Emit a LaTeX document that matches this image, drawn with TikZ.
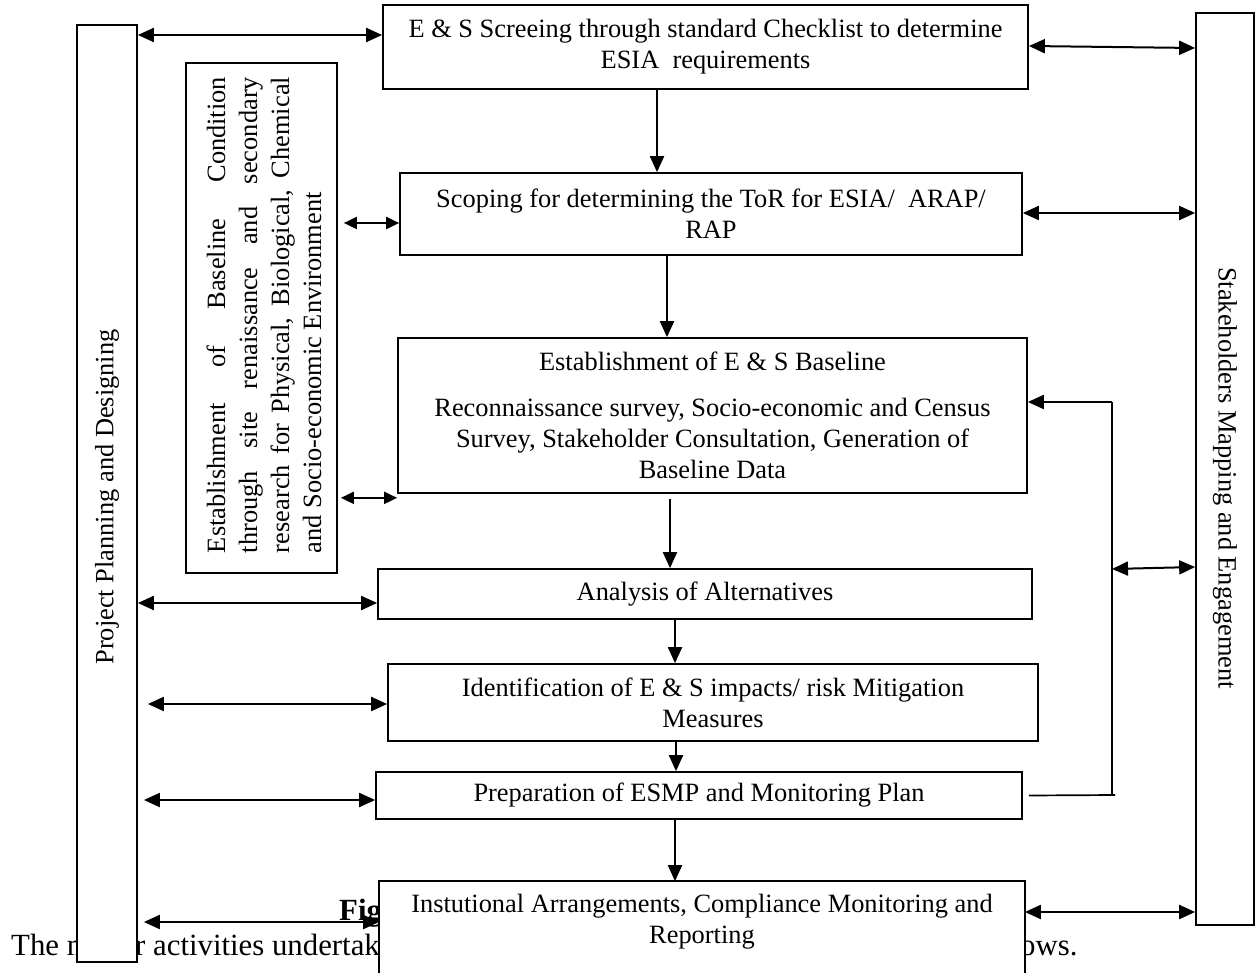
\documentclass[tikz,border=0pt]{standalone}
\usepackage{fontspec}
\setmainfont{Liberation Serif}
\usetikzlibrary{arrows.meta,calc}
\newcommand{\dgfont}{\fontsize{26.4}{31}\selectfont}
\newcommand{\pgtxt}{\fontsize{30.8}{36}\selectfont}

\begin{document}
\begin{tikzpicture}[x=1pt,y=-1pt,
  box/.style={draw, line width=1.7pt, fill=white, inner sep=0pt, align=center, font=\dgfont},
  side/.style={draw, line width=1.7pt, fill=white, inner sep=0pt},
  arr/.style={line width=2pt, -{Triangle[length=16pt,width=14pt]}},
  dbl/.style={line width=2pt, {Triangle[length=16pt,width=14pt]}-{Triangle[length=16pt,width=14pt]}},
  sdbl/.style={line width=2pt, {Triangle[length=13pt,width=12pt]}-{Triangle[length=13pt,width=12pt]}},
  ln/.style={line width=1.7pt},
  pg/.style={font=\pgtxt, anchor=base west, inner sep=0pt}
]
\useasboundingbox (0,0) rectangle (1255,973);
\fill[white] (0,0) rectangle (1255,973);

% stray page text (partly covered)
\node[pg] (t1) at (11,955) {The m};
\node[pg] (t2) at (135,955) {r activities undertak};
\node[pg] (t3) at (1020,955) {ows.};
\node[pg, font=\pgtxt\bfseries] (fig) at (339,920) {Fig};

% side boxes
\node[side, minimum width=60pt, minimum height=937pt] (ppd) at (107,493.5) {};
\node[rotate=90, font=\dgfont] (ppdt) at (107,497) {Project Planning and Designing};

\node[side, minimum width=58pt, minimum height=912pt] (sme) at (1225,469) {};
\node[rotate=-90, font=\dgfont] (smet) at (1225,478) {Stakeholders Mapping and Engagement};

\node[side, minimum width=151pt, minimum height=510pt] (bb) at (261.5,318) {};
\node[rotate=90, font=\fontsize{26.4}{32}\selectfont, text width=476pt, align=justify, inner sep=0pt] (bbt) at (264,315)
  {Establishment of Baseline Condition\linebreak through site renaissance and secondary\linebreak research for Physical, Biological, Chemical\linebreak and Socio-economic Environment};

% main boxes
\node[box, minimum width=645pt, minimum height=84pt] (b1) at (705.5,47)
  {E \& S Screeing through standard Checklist to determine\\ESIA\ \ requirements};
\node[box, minimum width=622pt, minimum height=82pt] (b2) at (711,214)
  {Scoping for determining the ToR for ESIA/\ \ ARAP/\\RAP};
\node[box, minimum width=629pt, minimum height=155pt] (b3) at (712.5,415.5)
  {Establishment of E \& S Baseline\\[15pt]Reconnaissance survey, Socio-economic and Census\\Survey, Stakeholder Consultation, Generation of\\Baseline Data};
\node[box, minimum width=654pt, minimum height=50pt] (b4) at (705,594) {Analysis of Alternatives};
\node[box, minimum width=650pt, minimum height=77pt] (b5) at (713,702.5)
  {Identification of E \& S impacts/ risk Mitigation\\Measures};
\node[box, minimum width=646pt, minimum height=47pt] (b6) at (699,795.5) {Preparation of ESMP and Monitoring Plan};
\node[box, draw=none, minimum width=644pt, minimum height=80pt] (b7) at (702,922)
  {Instutional Arrangements, Compliance Monitoring and\\Reporting};
\fill[white] (b7.south west) rectangle ($(b7.south east)+(0,15)$);
\draw[ln] ($(b7.south west)+(0,15)$) -- (b7.north west) -- (b7.north east) -- ($(b7.south east)+(0,15)$);

% down arrows
\draw[arr] (b1.south -| 657,0) -- (b2.north -| 657,0);
\draw[arr] (b2.south -| 667,0) -- (b3.north -| 667,0);
\draw[arr] ($(b3.south -| 670,0)+(0,5)$) -- (b4.north -| 670,0);
\draw[arr] (b4.south -| 675,0) -- (b5.north -| 675,0);
\draw[arr] (b5.south -| 676,0) -- (b6.north -| 676,0);
\draw[arr] (b6.south -| 675,0) -- (b7.north -| 675,0);

% left connectors
\draw[dbl] ($(ppd.east |- b1.west)+(0,-12)$) -- ($(b1.west)+(0,-12)$);
\draw[dbl] ($(ppd.east |- b4.west)+(0,9)$) -- ($(b4.west)+(0,9)$);
\draw[dbl] ($(ppd.east |- b5.west)+(10,1.5)$) -- ($(b5.west)+(0,1.5)$);
\draw[dbl] ($(ppd.east |- b6.west)+(6,4.5)$) -- ($(b6.west)+(0,4.5)$);
\draw[dbl] ($(ppd.east |- b7.west)+(6,0)$) -- (b7.west);
\draw[sdbl] ($(bb.east |- b2.west)+(6,9)$) -- ($(b2.west)+(0,9)$);
\draw[sdbl] ($(bb.east |- b3.south west)+(3,4)$) -- ($(b3.south west)+(0,4)$);

% right connectors
\draw[dbl] ($(b1.east)+(0,-1)$) -- ($(sme.west |- b1.east)+(0,1)$);
\draw[dbl] ($(b2.east)+(0,-1)$) -- ($(sme.west |- b2.east)+(0,-1)$);
\draw[dbl] ($(b7.east)+(0,-10)$) -- ($(sme.west |- b7.east)+(0,-10)$);

\coordinate (vt) at (1112,402);
\coordinate (vb) at (1112,795);
\coordinate (vm) at (1112,569);
\draw[ln] ($(b6.east)+(6,0)$) -- ($(vb)+(3,0)$);
\draw[ln] (vb) -- (vt);
\draw[arr] (vt) -- (vt -| b3.east);
\draw[dbl] (vm) -- ($(sme.west |- vm)+(0,-2)$);
\end{tikzpicture}
\end{document}
